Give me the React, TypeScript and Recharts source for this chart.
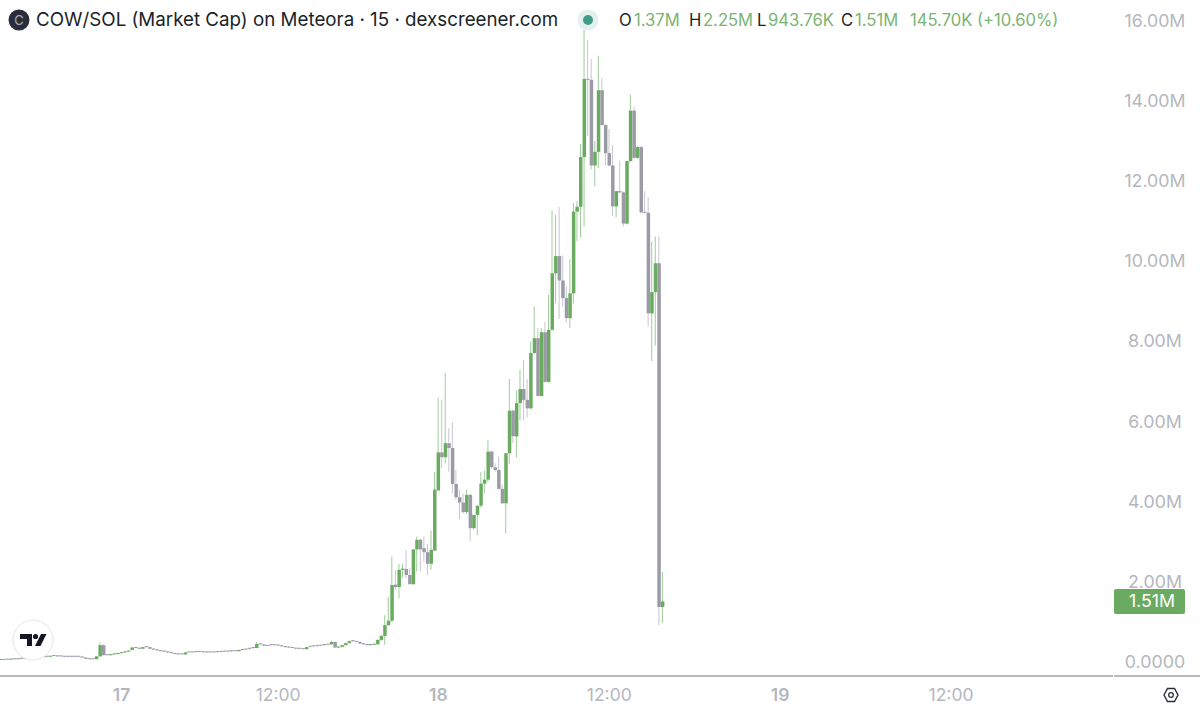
import { Bar, Cell, ComposedChart, XAxis, YAxis } from "recharts";

// 15 minute candles, market cap in millions
const opens = [
  0.05, 0.05, 0.06, 0.06, 0.07, 0.07, 0.08, 0.08, 0.09, 0.10,
  0.11, 0.11, 0.12, 0.13, 0.13, 0.15, 0.15, 0.14, 0.14, 0.13,
  0.13, 0.13, 0.13, 0.13, 0.11, 0.08, 0.07, 0.07, 0.14, 0.42,
  0.17, 0.17, 0.19, 0.20, 0.22, 0.24, 0.26, 0.30, 0.36, 0.35,
  0.33, 0.37, 0.37, 0.33, 0.31, 0.29, 0.27, 0.26, 0.24, 0.22,
  0.20, 0.19, 0.19, 0.24, 0.24, 0.25, 0.25, 0.25, 0.24, 0.24,
  0.24, 0.25, 0.25, 0.26, 0.26, 0.27, 0.27, 0.27, 0.30, 0.31,
  0.33, 0.35, 0.35, 0.45, 0.44, 0.41, 0.42, 0.42, 0.42, 0.41,
  0.39, 0.37, 0.36, 0.35, 0.33, 0.33, 0.32, 0.38, 0.39, 0.40,
  0.41, 0.42, 0.43, 0.44, 0.50, 0.36, 0.38, 0.42, 0.47, 0.52,
  0.52, 0.50, 0.46, 0.44, 0.42, 0.43,
  0.44, 0.55, 0.65, 0.92, 1.03, 1.93, 1.87, 2.30, 2.32, 2.17,
  1.94, 2.81, 3.05, 2.84, 2.74, 2.45, 2.78, 4.28, 5.23, 5.11,
  5.46, 5.34, 4.44, 4.11, 3.98, 3.74, 4.17, 3.34, 3.67, 3.90,
  4.45, 4.55, 5.25, 4.86, 4.79, 4.32, 3.96, 5.21, 6.27, 5.63,
  6.46, 6.81, 6.54, 6.33, 7.71, 8.08, 6.64, 8.23, 6.99, 8.29,
  9.70, 10.13, 9.52, 9.08, 8.58, 9.20, 11.24, 11.36, 12.60, 14.55,
  14.53, 12.39, 12.73, 14.27, 13.40, 12.70, 12.39, 11.37, 11.75, 11.72,
  10.94, 12.50, 13.76, 12.58, 12.85, 11.22, 11.21, 8.70, 9.23, 9.95,
  1.37,
];
const highs = [
  0.06, 0.06, 0.07, 0.08, 0.08, 0.08, 0.09, 0.09, 0.10, 0.11,
  0.12, 0.12, 0.13, 0.14, 0.16, 0.16, 0.16, 0.15, 0.15, 0.14,
  0.14, 0.14, 0.14, 0.14, 0.12, 0.09, 0.08, 0.15, 0.48, 0.44,
  0.18, 0.20, 0.21, 0.23, 0.25, 0.27, 0.29, 0.38, 0.37, 0.36,
  0.38, 0.38, 0.38, 0.34, 0.32, 0.30, 0.28, 0.27, 0.25, 0.23,
  0.21, 0.20, 0.25, 0.25, 0.25, 0.26, 0.26, 0.26, 0.25, 0.25,
  0.25, 0.26, 0.26, 0.27, 0.27, 0.28, 0.28, 0.31, 0.31, 0.32,
  0.34, 0.36, 0.50, 0.46, 0.45, 0.42, 0.43, 0.43, 0.43, 0.42,
  0.40, 0.38, 0.37, 0.36, 0.34, 0.34, 0.38, 0.39, 0.40, 0.41,
  0.42, 0.43, 0.44, 0.53, 0.51, 0.39, 0.43, 0.48, 0.53, 0.54,
  0.53, 0.51, 0.47, 0.45, 0.44, 0.46,
  0.57, 0.68, 1.17, 1.63, 2.63, 2.30, 2.45, 2.45, 2.80, 2.34,
  2.81, 3.13, 3.08, 3.13, 2.95, 3.28, 4.74, 6.60, 6.55, 7.21,
  5.83, 5.98, 4.80, 4.30, 4.20, 4.30, 4.20, 3.67, 3.90, 4.74,
  4.78, 5.54, 5.28, 4.95, 5.13, 4.42, 5.21, 7.06, 6.30, 6.78,
  7.29, 7.54, 7.06, 8.00, 8.87, 8.33, 8.33, 8.49, 9.16, 11.26,
  11.16, 11.36, 10.15, 9.37, 10.05, 11.46, 11.50, 12.93, 15.80, 15.53,
  15.05, 13.00, 15.13, 14.57, 13.42, 13.30, 12.90, 11.75, 12.50, 11.74,
  12.50, 14.16, 13.85, 12.87, 12.87, 11.75, 11.60, 10.49, 10.62, 10.62,
  2.25,
];
const lows = [
  0.04, 0.04, 0.04, 0.05, 0.06, 0.06, 0.06, 0.07, 0.07, 0.08,
  0.09, 0.10, 0.10, 0.11, 0.12, 0.14, 0.13, 0.13, 0.12, 0.12,
  0.12, 0.12, 0.12, 0.10, 0.07, 0.06, 0.06, 0.06, 0.13, 0.16,
  0.16, 0.16, 0.18, 0.19, 0.21, 0.23, 0.25, 0.29, 0.34, 0.32,
  0.32, 0.36, 0.32, 0.30, 0.28, 0.26, 0.25, 0.23, 0.21, 0.19,
  0.18, 0.18, 0.18, 0.23, 0.23, 0.23, 0.24, 0.23, 0.23, 0.23,
  0.23, 0.23, 0.24, 0.24, 0.25, 0.25, 0.26, 0.26, 0.29, 0.29,
  0.30, 0.32, 0.34, 0.43, 0.40, 0.39, 0.39, 0.41, 0.40, 0.38,
  0.36, 0.35, 0.34, 0.32, 0.32, 0.31, 0.31, 0.36, 0.37, 0.38,
  0.39, 0.40, 0.41, 0.43, 0.35, 0.35, 0.37, 0.41, 0.46, 0.51,
  0.49, 0.45, 0.43, 0.41, 0.41, 0.42,
  0.43, 0.52, 0.43, 0.90, 1.00, 1.80, 1.59, 2.10, 2.09, 1.94,
  1.94, 2.26, 2.26, 2.50, 2.17, 2.30, 2.78, 4.28, 4.84, 4.96,
  4.75, 4.21, 4.05, 3.56, 3.70, 3.70, 3.02, 3.30, 3.16, 3.85,
  4.21, 4.50, 4.82, 4.75, 4.30, 3.94, 3.21, 4.94, 5.46, 5.11,
  6.03, 6.03, 6.10, 6.30, 7.69, 6.62, 6.62, 6.97, 6.97, 8.27,
  8.95, 8.56, 8.87, 8.47, 8.34, 8.95, 10.50, 10.59, 10.87, 13.12,
  12.29, 11.87, 12.33, 13.38, 12.39, 12.37, 11.14, 11.10, 11.70, 10.87,
  10.92, 12.48, 12.56, 12.56, 11.20, 11.19, 8.37, 7.51, 7.89, 0.92,
  0.97,
];
const closes = [
  0.05, 0.05, 0.06, 0.07, 0.07, 0.07, 0.08, 0.08, 0.09, 0.10,
  0.11, 0.11, 0.12, 0.13, 0.15, 0.15, 0.14, 0.14, 0.13, 0.13,
  0.13, 0.13, 0.13, 0.11, 0.08, 0.07, 0.07, 0.14, 0.42, 0.17,
  0.17, 0.19, 0.20, 0.22, 0.24, 0.26, 0.28, 0.36, 0.35, 0.33,
  0.37, 0.37, 0.33, 0.31, 0.29, 0.27, 0.26, 0.24, 0.22, 0.20,
  0.19, 0.19, 0.24, 0.24, 0.24, 0.25, 0.25, 0.24, 0.24, 0.24,
  0.24, 0.25, 0.25, 0.26, 0.26, 0.27, 0.27, 0.30, 0.30, 0.31,
  0.33, 0.35, 0.45, 0.44, 0.41, 0.40, 0.42, 0.42, 0.41, 0.39,
  0.37, 0.36, 0.35, 0.33, 0.33, 0.32, 0.37, 0.38, 0.39, 0.40,
  0.41, 0.42, 0.43, 0.50, 0.36, 0.38, 0.42, 0.47, 0.52, 0.52,
  0.50, 0.46, 0.44, 0.42, 0.43, 0.45,
  0.55, 0.65, 0.92, 1.03, 1.92, 1.87, 2.30, 2.33, 2.17, 1.94,
  2.81, 3.05, 2.81, 2.74, 2.45, 2.80, 4.30, 5.23, 5.11, 5.46,
  5.34, 4.44, 4.11, 3.98, 3.74, 4.17, 3.34, 3.67, 3.90, 4.45,
  4.55, 5.25, 4.86, 4.79, 4.32, 3.96, 5.21, 6.27, 5.63, 6.46,
  6.81, 6.54, 6.33, 7.71, 8.08, 6.64, 8.23, 6.99, 8.29, 9.70,
  10.13, 9.52, 9.08, 8.58, 9.20, 11.24, 11.36, 12.60, 14.55, 14.53,
  12.39, 12.73, 14.27, 13.40, 12.70, 12.39, 11.37, 11.75, 11.72, 10.94,
  12.50, 13.76, 12.58, 12.85, 11.22, 11.21, 8.70, 9.23, 9.95, 1.37,
  1.51,
];

const xTickIndexes = [34, 78, 123, 171, 219, 267];
const xTickLabels = ["17", "12:00", "18", "12:00", "19", "12:00"];
const yTicks = [0, 2, 4, 6, 8, 10, 12, 14, 16];
const lastClose = 1.51;

const UP = "#6aab61";
const DOWN = "#9b9ba6";
const UP_WICK = "#a0cb9b";
const DOWN_WICK = "#c6c6cf";
const AXIS_TEXT = "#b5b7be";
const FONT = "Inter, 'Liberation Sans', sans-serif";

const data = closes.map((close, i) => ({
  index: i,
  up: close > opens[i],
  wick: [lows[i], highs[i]],
  body: [Math.min(opens[i], close), Math.max(opens[i], close)],
}));

function YTick({ x, y, payload }: any) {
  const v = payload.value;
  if (v === lastClose) {
    return (
      <g>
        <rect x={x - 7} y={y - 12.5} width={71} height={25} rx={2} fill={UP} />
        <text x={x + 31} y={y + 6} textAnchor="middle" fontSize={17.8} fontFamily={FONT} fill="#fff">
          {v.toFixed(2)}M
        </text>
      </g>
    );
  }
  return (
    <text x={x + 34} y={y + 6} textAnchor="middle" fontSize={17.8} fontFamily={FONT} fill={AXIS_TEXT}>
      {v === 0 ? "0.0000" : `${v.toFixed(2)}M`}
    </text>
  );
}

function XTick({ x, y, payload }: any) {
  const label = xTickLabels[xTickIndexes.indexOf(payload.value)];
  return (
    <text
      x={x}
      y={y + 17}
      textAnchor="middle"
      fontSize={17.5}
      fontWeight={label.includes(":") ? 400 : 600}
      fontFamily={FONT}
      fill={AXIS_TEXT}
    >
      {label}
    </text>
  );
}

function Legend({ left, color, children }: any) {
  return (
    <span style={{ position: "absolute", left, top: 10, color, fontSize: 16.6, lineHeight: "20px", whiteSpace: "nowrap" }}>
      {children}
    </span>
  );
}

export default function App() {
  return (
    <div style={{ position: "absolute", left: 0, top: 0, width: 1200, height: 711, background: "#fff", fontFamily: FONT, overflow: "hidden" }}>
      <ComposedChart width={1200} height={711} data={data} margin={{ top: 0, right: 0, bottom: 0, left: 0 }}>
        <XAxis
          xAxisId="wick"
          dataKey="index"
          type="number"
          domain={[-0.14, 312.5]}
          allowDataOverflow
          ticks={xTickIndexes}
          interval={0}
          height={35}
          tickLine={false}
          axisLine={{ stroke: "#a3a3a3", strokeWidth: 1.5 }}
          tick={XTick}
        />
        <XAxis xAxisId="body" dataKey="index" type="number" domain={[-0.14, 312.5]} allowDataOverflow hide height={0} />
        <YAxis
          orientation="right"
          width={87}
          domain={[-0.35, 16.52]}
          allowDataOverflow
          ticks={[...yTicks, lastClose]}
          interval={0}
          tickLine={false}
          axisLine={false}
          tick={YTick}
        />
        <Bar xAxisId="wick" dataKey="wick" barSize={1} isAnimationActive={false}>
          {data.map((d) => (
            <Cell key={d.index} fill={d.up ? UP_WICK : DOWN_WICK} />
          ))}
        </Bar>
        <Bar xAxisId="body" dataKey="body" barSize={3.5} minPointSize={1} isAnimationActive={false}>
          {data.map((d) => (
            <Cell key={d.index} fill={d.up ? UP : DOWN} />
          ))}
        </Bar>
      </ComposedChart>

      {/* header row */}
      <svg width={1200} height={711} style={{ position: "absolute", left: 0, top: 0, pointerEvents: "none" }}>
        <circle cx={19} cy={20} r={10.5} fill="#2a2e3c" />
        <text x={19} y={25} textAnchor="middle" fontSize={13} fontFamily={FONT} fill="#a8abb5">C</text>
        <circle cx={588} cy={20} r={10.5} fill="#e3f0ee" />
        <circle cx={588} cy={20} r={5} fill="#3f9c85" />
        <circle cx={33} cy={640} r={20} fill="#fff" stroke="#e4e4ea" strokeWidth={1} />
        <path d="M20 634h12v12h-5v-7h-7z" fill="#131722" />
        <circle cx={35.5} cy={636.5} r={2.6} fill="#131722" />
        <path d="M41 634h5.5l-6 12H35z" fill="#131722" />
        <rect x={1114} y={675.25} width={86} height={1.5} fill="#a3a3a3" />
        <path d="M1164 695l3.5-6.5h7l3.5 6.5-3.5 6.5h-7z" fill="none" stroke="#2a2e39" strokeWidth={1.4} />
        <circle cx={1171} cy={695} r={2.3} fill="none" stroke="#2a2e39" strokeWidth={1.3} />
      </svg>
      <span style={{ position: "absolute", left: 36, top: 8, fontSize: 18.75, lineHeight: "24px", color: "#1c1f28", whiteSpace: "nowrap" }}>
        COW/SOL (Market Cap) on Meteora · 15 · dexscreener.com
      </span>
      <Legend left={619} color="#1c1f28">O</Legend>
      <Legend left={634} color="#7ab472">1.37M</Legend>
      <Legend left={689} color="#1c1f28">H</Legend>
      <Legend left={703} color="#7ab472">2.25M</Legend>
      <Legend left={757} color="#1c1f28">L</Legend>
      <Legend left={768} color="#7ab472">943.76K</Legend>
      <Legend left={841} color="#1c1f28">C</Legend>
      <Legend left={855} color="#7ab472">1.51M</Legend>
      <Legend left={910} color="#7ab472">145.70K (+10.60%)</Legend>
    </div>
  );
}
